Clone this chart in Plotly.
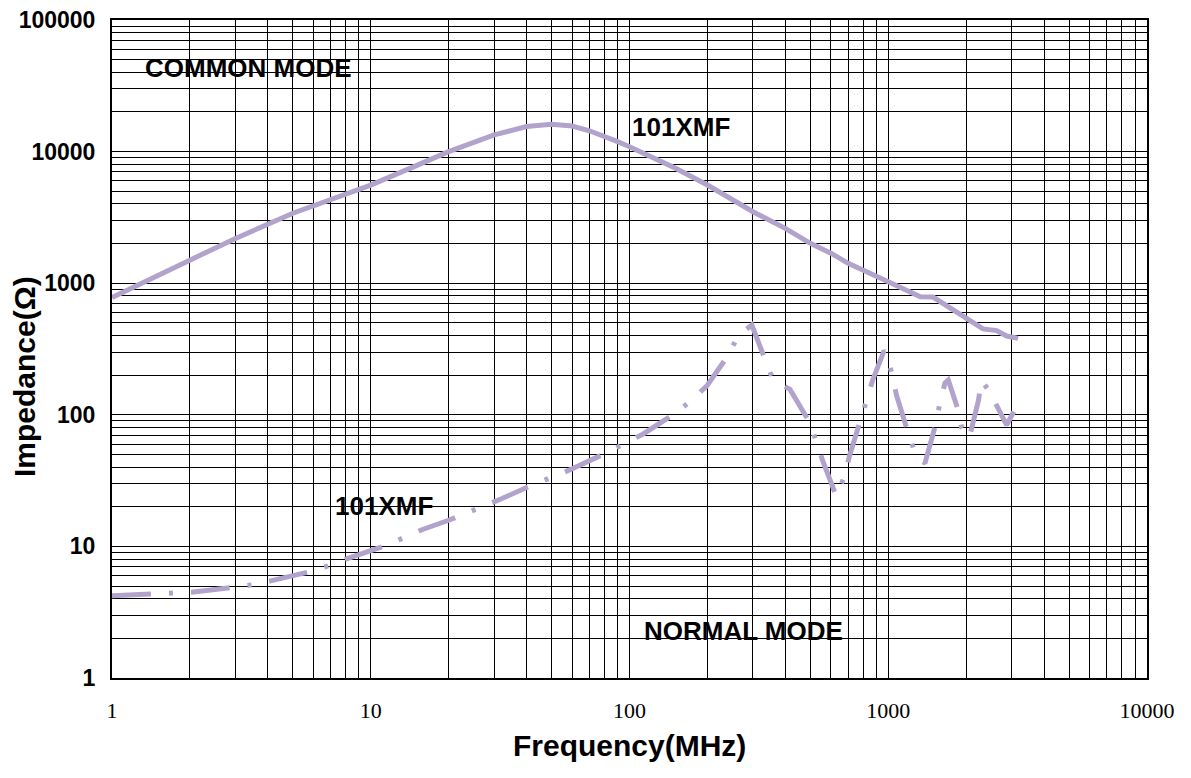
import plotly.graph_objects as go

# Common mode impedance curve (MHz, Ohm)
cm_freq = [1, 2, 3, 5, 7, 10, 15, 20, 30, 40, 50, 60, 70, 80, 90, 100, 150, 200, 300, 400,
           500, 600, 700, 1000, 1200, 1330, 1490, 1733, 2323, 2624, 2868, 3175]
cm_imp = [780, 1500, 2190, 3400, 4340, 5570, 7820, 10000, 13400, 15500, 16100, 15630, 14400,
          13150, 11900, 10900, 7500, 5570, 3490, 2610, 2010, 1690, 1416, 1026, 862, 790, 785,
          645, 449, 436, 397, 381]

# Normal mode impedance curve (MHz, Ohm)
nm_freq = [1.0, 1.42, 1.7, 2.03, 2.86, 3.46, 4.14, 5.82, 6.89, 8.17, 11.35, 13.4, 15.95, 20, 25,
           32, 40, 50, 59.8, 81.6, 95.5, 113, 150, 174, 199, 241, 263, 297, 336, 359, 417, 495,
           526, 558, 629, 677, 707, 785, 830, 871, 964, 991, 1037, 1077, 1196, 1268, 1386, 1516,
           1576, 1656, 1706, 1848, 1922, 2057, 2228, 2296, 2456, 2868, 3118]
nm_imp = [4.22, 4.32, 4.4, 4.48, 4.85, 5.1, 5.49, 6.42, 7.13, 8.12, 10.1, 11.66, 13.5, 15.8, 18.8,
          23, 28, 33.5, 38.7, 51.5, 60, 71.5, 102.6, 129, 166, 284, 399, 481, 256, 184, 156, 88.7,
          63.5, 44.8, 24.2, 33.9, 48.1, 91.3, 129, 184, 307, 285, 197, 140, 72.3, 51.5, 42.7, 81,
          117, 174, 184, 114, 79.8, 67, 127, 181, 152, 83.6, 114]

x_major = [1, 10, 100, 1000, 10000]
y_major = [1, 10, 100, 1000, 10000, 100000]

curve_color = "rgb(178,163,204)"

def log_grid(decades):
    vals, texts = [], []
    for d in decades[:-1]:
        for k in range(1, 10):
            vals.append(d * k)
            texts.append(str(d) if k == 1 else "")
    vals.append(decades[-1])
    texts.append(str(decades[-1]))
    return vals, texts

xv, xt = log_grid(x_major)
yv, yt = log_grid(y_major)

fig = go.Figure()
fig.add_trace(go.Scatter(x=cm_freq, y=cm_imp, mode="lines",
                         line=dict(color=curve_color, width=5), showlegend=False))
fig.add_trace(go.Scatter(x=nm_freq, y=nm_imp, mode="lines",
                         line=dict(color=curve_color, width=5, dash="39px,18px,4px,18px"),
                         showlegend=False))

fig.update_layout(
    width=1175, height=762,
    margin=dict(l=104, r=36, t=12, b=92, autoexpand=False),
    paper_bgcolor="white", plot_bgcolor="white",
    xaxis=dict(type="log", range=[0, 4], tickvals=xv, ticktext=xt, automargin=False,
               ticklabeloverflow="allow",
               showgrid=True, gridcolor="black", gridwidth=1,
               showline=True, linecolor="black", linewidth=2, mirror=True,
               ticks="", ticklabelstandoff=12,
               tickfont=dict(family="Liberation Serif", size=22, color="black"),
               zeroline=False),
    yaxis=dict(type="log", range=[0, 5], tickvals=yv, ticktext=yt, automargin=False,
               ticklabeloverflow="allow",
               showgrid=True, gridcolor="black", gridwidth=1,
               showline=True, linecolor="black", linewidth=2, mirror=True,
               ticks="", ticklabelstandoff=10,
               tickfont=dict(family="Liberation Sans", size=23, color="black", weight="bold"),
               zeroline=False),
    shapes=[
        dict(type="rect", xref="paper", yref="paper", x0=0.0068, x1=0.3101, y0=0.8967, y1=0.9574,
             fillcolor="white", line=dict(width=0), layer="between"),
        dict(type="rect", xref="paper", yref="paper", x0=0.5043, x1=0.801, y0=0.0502, y1=0.1049,
             fillcolor="white", line=dict(width=0), layer="between"),
    ],
)

bold = dict(family="Liberation Sans", size=26, color="black", weight="bold")
ann = [
    dict(text="COMMON MODE", x=0.0300, y=0.927, xanchor="left", yanchor="middle", font=bold),
    dict(text="NORMAL MODE", x=0.5121, y=0.0714, xanchor="left", yanchor="middle", font=bold),
    dict(text="101XMF", x=0.5005, y=0.8381, xanchor="left", yanchor="middle", font=bold),
    dict(text="101XMF", x=0.2135, y=0.2614, xanchor="left", yanchor="middle", font=bold),
]
for a in ann:
    fig.add_annotation(xref="paper", yref="paper", showarrow=False, **a)

fig.add_annotation(text="Frequency(MHz)", xref="paper", yref="paper", x=0.5, y=0,
                   yshift=-67, xanchor="center", yanchor="middle", showarrow=False,
                   font=dict(family="Liberation Sans", size=30, color="black", weight="bold"))
fig.add_annotation(text="Impedance(Ω)", xref="paper", yref="paper", x=0, xshift=-88, y=0.5,
                   yshift=-28, xanchor="center", yanchor="middle", textangle=-90, showarrow=False,
                   font=dict(family="Liberation Sans", size=30, color="black", weight="bold"))

fig.write_html("out.html")
